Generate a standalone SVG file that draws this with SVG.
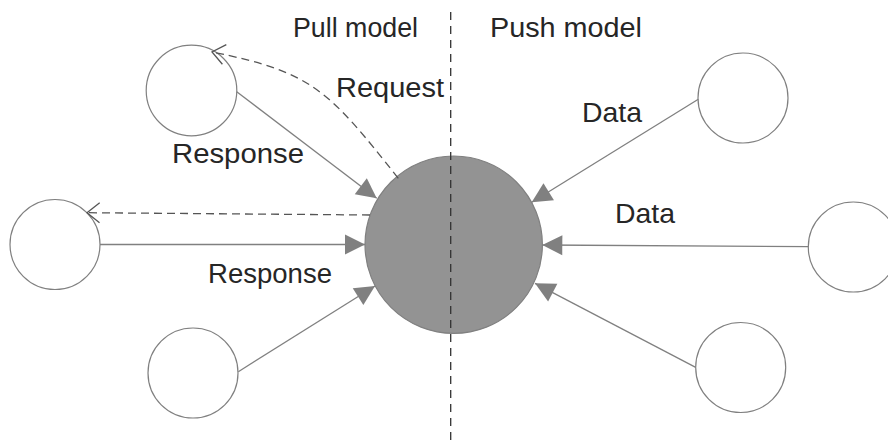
<svg xmlns="http://www.w3.org/2000/svg" width="888" height="441" viewBox="0 0 888 441">
<style>
.node{fill:#fff;stroke:#808080;stroke-width:1.2}
.hub{fill:#939393;stroke:#808080;stroke-width:1.2}
.edge{fill:none;stroke:#808080;stroke-width:1.3}
.dash{fill:none;stroke:#555;stroke-width:1.3;stroke-dasharray:8 5}
.divider{fill:none;stroke:#333;stroke-width:1.3;stroke-dasharray:8 6}
.lbl{font-family:"Liberation Sans",Arial,Helvetica,sans-serif;font-size:27.5px;fill:#262626}
</style>
<defs>
<marker id="solid" markerUnits="userSpaceOnUse" markerWidth="30" markerHeight="30" viewBox="-25 -15 30 30" refX="0" refY="0" orient="auto" overflow="visible">
<path d="M0,0 L-20,-10 L-20,10 z" fill="#808080"/>
</marker>
<marker id="open" markerUnits="userSpaceOnUse" markerWidth="30" markerHeight="30" viewBox="-25 -15 30 30" refX="0" refY="0" orient="auto" overflow="visible">
<path d="M-12.6,-10 L0,0 L-12.6,10" fill="none" stroke="#555" stroke-width="1.3"/>
</marker>
</defs>
<rect width="888" height="441" fill="#fff"/>
<g id="hub"><circle class="hub" cx="453.7" cy="244.7" r="88.7"/></g>
<g id="client-top-left"><circle class="node" cx="191.5" cy="90.5" r="45.3"/></g>
<g id="client-left"><circle class="node" cx="55" cy="244.5" r="45"/></g>
<g id="client-bottom-left"><circle class="node" cx="193" cy="373" r="45"/></g>
<g id="source-top-right"><circle class="node" cx="743" cy="98" r="45"/></g>
<g id="source-right"><circle class="node" cx="853.3" cy="247" r="45"/></g>
<g id="source-bottom-right"><circle class="node" cx="740.7" cy="367.5" r="45"/></g>
<g id="connectors">
<path class="dash" d="M398.3,178.3 C328,89.5 312,72 212,52" marker-end="url(#open)"/>
<path class="dash" d="M370,215 L87,212.7" marker-end="url(#open)"/>
<path class="edge" d="M236.7,91.7 L376.7,198.3" marker-end="url(#solid)"/>
<path class="edge" d="M100,244.5 L365,244.5" marker-end="url(#solid)"/>
<path class="edge" d="M238.3,371.7 L375,286" marker-end="url(#solid)"/>
<path class="edge" d="M698.3,99.3 L531.7,202.3" marker-end="url(#solid)"/>
<path class="edge" d="M808.3,246.7 L542.3,245" marker-end="url(#solid)"/>
<path class="edge" d="M695.7,367.3 L535,283.3" marker-end="url(#solid)"/>
</g>
<g id="divider"><line class="divider" x1="450.7" y1="12" x2="450.7" y2="441"/></g>
<g id="labels">
<text class="lbl" x="293" y="37" textLength="125" lengthAdjust="spacingAndGlyphs">Pull model</text>
<text class="lbl" x="490" y="37" textLength="152" lengthAdjust="spacingAndGlyphs">Push model</text>
<text class="lbl" x="336" y="97" textLength="108" lengthAdjust="spacingAndGlyphs">Request</text>
<text class="lbl" x="172" y="163" textLength="132" lengthAdjust="spacingAndGlyphs">Response</text>
<text class="lbl" x="208" y="283" textLength="124" lengthAdjust="spacingAndGlyphs">Response</text>
<text class="lbl" x="582" y="122" textLength="60" lengthAdjust="spacingAndGlyphs">Data</text>
<text class="lbl" x="615" y="223" textLength="60" lengthAdjust="spacingAndGlyphs">Data</text>
</g>
</svg>
